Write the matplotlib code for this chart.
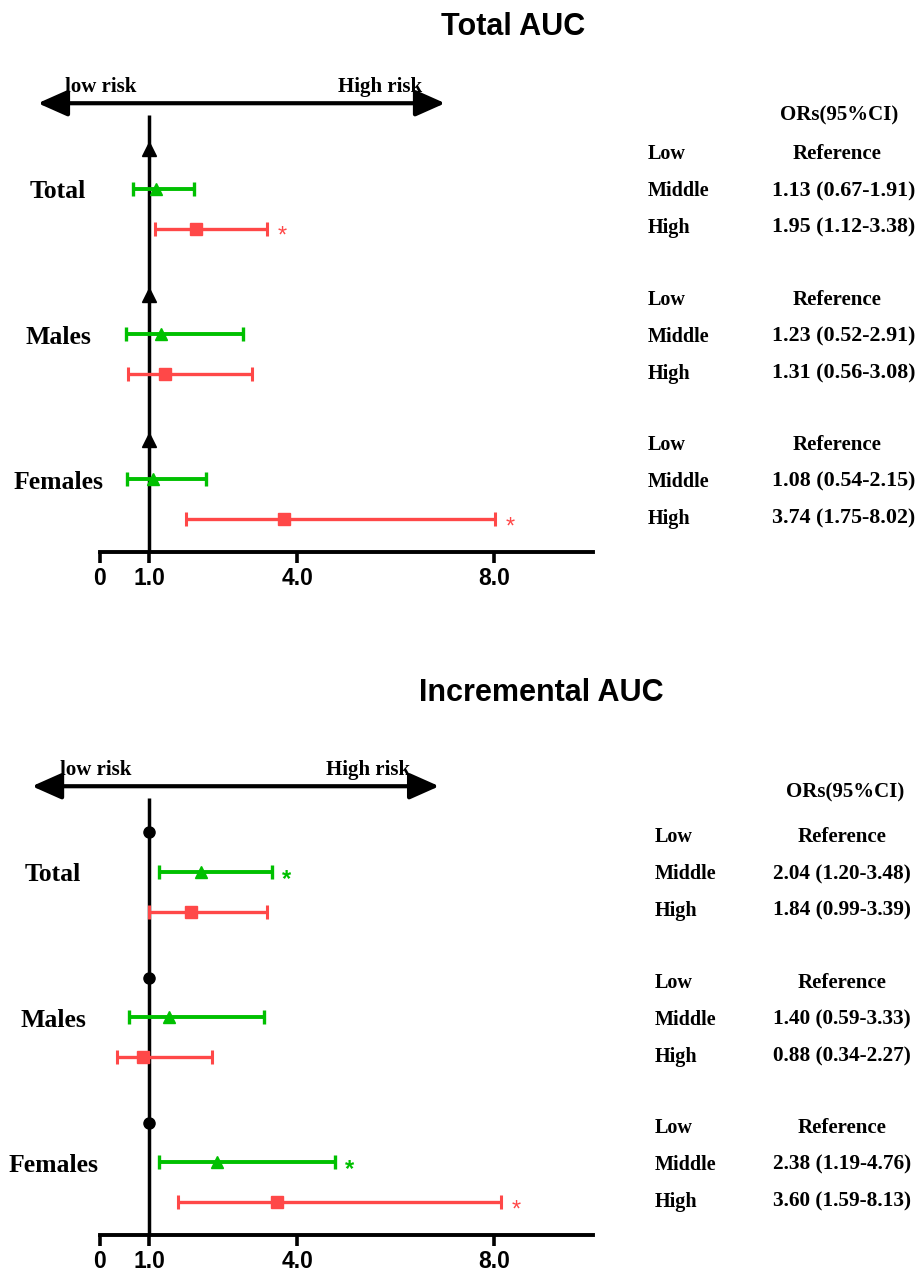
import matplotlib
matplotlib.use("Agg")
import matplotlib.pyplot as plt

# ---------------- data ----------------
groups = ["Total", "Males", "Females"]
levels = ["Low", "Middle", "High"]

total_mid_or = [1.13, 1.23, 1.08]
total_mid_lo = [0.67, 0.52, 0.54]
total_mid_hi = [1.91, 2.91, 2.15]
total_high_or = [1.95, 1.31, 3.74]
total_high_lo = [1.12, 0.56, 1.75]
total_high_hi = [3.38, 3.08, 8.02]
total_mid_sig = [False, False, False]
total_high_sig = [True, False, True]

incr_mid_or = [2.04, 1.40, 2.38]
incr_mid_lo = [1.20, 0.59, 1.19]
incr_mid_hi = [3.48, 3.33, 4.76]
incr_high_or = [1.84, 0.88, 3.60]
incr_high_lo = [0.99, 0.34, 1.59]
incr_high_hi = [3.39, 2.27, 8.13]
incr_mid_sig = [True, False, True]
incr_high_sig = [False, False, True]

tick_vals = [0, 1, 4, 8]
tick_labels = ["0", "1.0", "4.0", "8.0"]

# ---------------- style ----------------
GREEN = "#00c000"
RED = "#ff4848"
SERIF = "Liberation Serif"
SANS = "Liberation Sans"

W, H = 918, 1276
fig = plt.figure(figsize=(W / 100, H / 100), dpi=100)


def px_axes(left, top, right, bottom):
    return fig.add_axes([left / W, 1 - bottom / H, (right - left) / W, (bottom - top) / H])


ref_y = [10.27, 6.55, 2.85]
row_off = [0.0, 1.0, 2.02]


def fmt(o, l, h):
    return f"{o:.2f} ({l:.2f}-{h:.2f})"


def panel(ax, title, title_xy, ref_marker, ref_ms, mid, high, mid_sig, high_sig,
          arrow_x, low_x, high_x, grp_x, tab_low_x, tab_val_x, tab_ref_x, ors_xy, val_fs):
    ax.set_xlim(0, 10)
    ax.set_ylim(0, 11.66)
    for s in ["left", "top", "right"]:
        ax.spines[s].set_visible(False)
    ax.spines["bottom"].set_linewidth(2.8)
    ax.spines["bottom"].set_bounds(0, 10)
    ax.set_yticks([])
    ax.set_xticks(tick_vals)
    ax.set_xticklabels(tick_labels, fontfamily=SANS, fontweight="bold", fontsize=16.5)
    ax.tick_params(axis="x", direction="out", length=8, width=2.6, pad=3)

    # reference vertical line
    ax.plot([1, 1], [0, 11.15], color="black", lw=2.5, solid_capstyle="butt", clip_on=False)

    # double arrow
    ax.annotate("", xy=(arrow_x[1], 11.45), xytext=(arrow_x[0], 11.45),
                arrowprops=dict(arrowstyle="<|-|>,head_length=1.8,head_width=0.8",
                                lw=3, color="black", shrinkA=0, shrinkB=0),
                annotation_clip=False)
    ax.text(low_x, 11.6, "low risk", ha="left", va="bottom", fontfamily=SERIF,
            fontweight="bold", fontsize=15, clip_on=False)
    ax.text(high_x, 11.6, "High risk", ha="right", va="bottom", fontfamily=SERIF,
            fontweight="bold", fontsize=15, clip_on=False)

    ax.text(ors_xy[0], ors_xy[1], "ORs(95%CI)", ha="center", va="center",
            fontfamily=SERIF, fontweight="bold", fontsize=15, clip_on=False)

    for g, name in enumerate(groups):
        y0 = ref_y[g]
        ym = y0 - row_off[1]
        yh = y0 - row_off[2]
        # reference marker
        ax.plot([1], [y0], marker=ref_marker, color="black", ms=ref_ms, clip_on=False)
        # middle
        o, l, h = mid[0][g], mid[1][g], mid[2][g]
        ax.errorbar([o], [ym], xerr=[[o - l], [h - o]], fmt="^", color=GREEN, ms=8,
                    elinewidth=2.8, capsize=5, capthick=2.4, clip_on=False)
        if mid_sig[g]:
            ax.annotate("*", xy=(h, ym), xytext=(11, -10), textcoords="offset points",
                        ha="center", va="baseline", color=GREEN, fontsize=17,
                        fontweight="bold", fontfamily=SANS, annotation_clip=False)
        # high
        o, l, h = high[0][g], high[1][g], high[2][g]
        ax.errorbar([o], [yh], xerr=[[o - l], [h - o]], fmt="s", color=RED, ms=8,
                    elinewidth=2.4, capsize=5, capthick=2.2, clip_on=False)
        if high_sig[g]:
            ax.annotate("*", xy=(h, yh), xytext=(11, -10), textcoords="offset points",
                        ha="center", va="baseline", color=RED, fontsize=17,
                        fontfamily=SANS, annotation_clip=False)
        # group label
        ax.text(grp_x, ym - 0.08, name, ha="center", va="center", fontfamily=SERIF,
                fontweight="bold", fontsize=18.5, clip_on=False)
        # table
        ty = y0 - 0.12
        step = 0.94
        kw = dict(va="center", fontfamily=SERIF, fontweight="bold", clip_on=False)
        ax.text(tab_low_x, ty, levels[0], ha="left", fontsize=14.5, **kw)
        ax.text(tab_ref_x, ty, "Reference", ha="center", fontsize=15, **kw)
        ax.text(tab_low_x, ty - step, levels[1], ha="left", fontsize=14.5, **kw)
        ax.text(tab_val_x, ty - step, fmt(mid[0][g], mid[1][g], mid[2][g]), ha="left",
                fontsize=val_fs, **kw)
        ax.text(tab_low_x, ty - 2 * step, levels[2], ha="left", fontsize=14.5, **kw)
        ax.text(tab_val_x, ty - 2 * step, fmt(high[0][g], high[1][g], high[2][g]), ha="left",
                fontsize=val_fs, **kw)

    fig.text(title_xy[0] / W, 1 - title_xy[1] / H, title, ha="center", va="center",
             fontfamily=SANS, fontweight="bold", fontsize=22)


ax1 = px_axes(100, 95, 593, 552)
panel(ax1, "Total AUC", (513, 27), "^", 10,
      (total_mid_or, total_mid_lo, total_mid_hi),
      (total_high_or, total_high_lo, total_high_hi),
      total_mid_sig, total_high_sig,
      arrow_x=(-1.26, 7.0), low_x=-0.71, high_x=6.53, grp_x=-0.85,
      tab_low_x=11.1, tab_val_x=13.63, tab_ref_x=14.95, ors_xy=(15.0, 11.15), val_fs=15.8)

ax2 = px_axes(100, 778, 593, 1235)
panel(ax2, "Incremental AUC", (541, 693), "o", 8,
      (incr_mid_or, incr_mid_lo, incr_mid_hi),
      (incr_high_or, incr_high_lo, incr_high_hi),
      incr_mid_sig, incr_high_sig,
      arrow_x=(-1.38, 6.88), low_x=-0.81, high_x=6.29, grp_x=-0.95,
      tab_low_x=11.26, tab_val_x=13.65, tab_ref_x=15.05, ors_xy=(15.11, 11.3), val_fs=15.3)

fig.savefig("out.png", dpi=100)
